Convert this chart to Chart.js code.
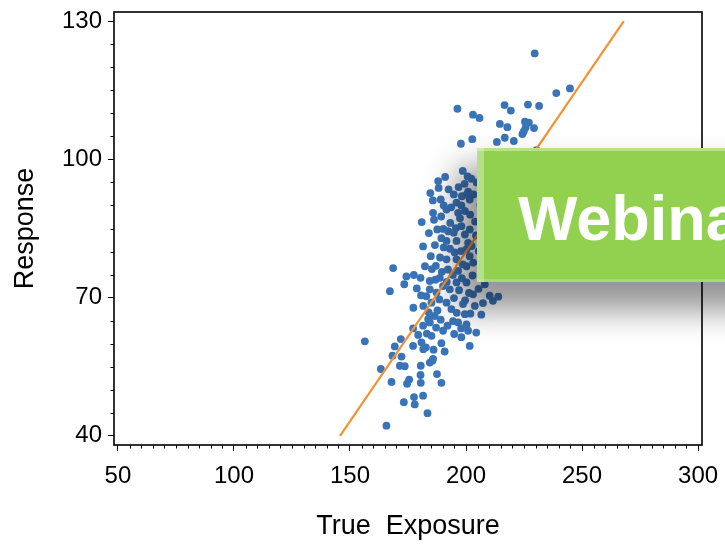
<!DOCTYPE html>
<html>
<head>
<meta charset="utf-8">
<script src="https://cdn.jsdelivr.net/npm/chart.js@4.4.0/dist/chart.umd.min.js"></script>
<style>
 html, body { margin: 0; padding: 0; background: #fff; overflow: hidden; }
 #wrap { position: relative; width: 725px; height: 544px; overflow: hidden; }
 #banner {
  position: absolute; left: 477px; top: 148px; width: 330px; height: 134px;
  background: #92d050;
  box-shadow: -16px 24px 30px 4px rgba(0, 0, 0, 0.42),
   inset 7px 0 0 rgba(255, 255, 255, 0.32),
   inset 0 3px 0 rgba(255, 255, 255, 0.35),
   inset 0 -3px 0 rgba(255, 255, 255, 0.2);
 }
 #banner span {
  position: absolute; left: 41px; top: 39px;
  font: bold 63px/63px "Liberation Sans", Arial, sans-serif; color: #fff;
  white-space: nowrap;
 }
</style>
</head>
<body>
<div id="wrap">
 <canvas id="chart" width="725" height="544"></canvas>
 <div id="banner"><span>Webinar</span></div>
</div>
<script>
// scatter points (visible ones)
var exposure = [
 229.6, 238.9, 244.8, 196.3, 203.0, 205.8, 216.6, 219.3, 226.7, 231.5, 214.6, 217.8,
 225.4, 227.1, 225.7, 229.3, 224.9, 224.3, 197.8, 202.7, 213.3, 216.7, 220.6,
 200.7, 202.3, 199.4, 188.2, 184.6, 194.7, 198.2, 200.2, 189.1, 190.4, 191.6, 195.9,
 198.0, 201.6, 199.5, 196.6, 185.8, 180.9, 198.0, 187.6, 190.2, 192.3, 194.7, 199.5,
 201.6, 191.6, 195.9, 200.9, 181.5, 190.4, 200.2, 195.1, 187.0, 191.6, 195.9, 201.6,
 192.2, 196.6, 200.2, 168.6, 174.3, 177.5, 180.4, 173.4, 167.2, 184.4, 188.7, 190.1,
 184.4, 187.3, 193.0, 195.9, 200.2, 208.1, 210.2, 211.6, 213.9, 203.0, 181.6, 185.1,
 191.6, 193.7, 198.7, 203.8, 206.6, 177.3, 183.7, 181.5, 184.4, 186.5, 194.4, 196.6,
 199.5, 200.2, 190.1, 185.1, 156.4, 171.9, 204.4, 200.9, 198.0, 177.2, 180.8, 189.4,
 201.6, 177.2, 169.3, 168.3, 172.2, 181.6, 182.7, 163.3, 171.5, 173.6, 180.5, 184.4,
 185.5, 167.9, 175.5, 174.6, 180.4, 180.5, 187.5, 177.6, 181.5, 177.9, 173.2, 183.4,
 165.7, 189.4, 185.8
];
var response = [
 123.0, 114.4, 115.4, 111.0, 109.7, 109.0, 111.8, 110.6, 111.9, 111.6, 107.7, 107.0,
 108.2, 108.0, 106.9, 106.8, 106.1, 105.5, 103.4, 104.4, 103.8, 104.7, 104.0,
 96.3, 95.8, 94.7, 93.8, 92.7, 92.4, 92.0, 92.3, 91.3, 90.0, 89.1, 90.6,
 90.0, 91.3, 88.8, 88.4, 88.4, 86.4, 85.5, 84.8, 84.9, 84.4, 84.1, 83.7,
 84.8, 82.3, 82.3, 81.9, 81.1, 80.9, 80.5, 79.8, 76.9, 78.3, 78.3, 79.0,
 76.1, 75.8, 76.8, 76.4, 74.6, 74.9, 74.3, 72.9, 71.4, 73.6, 74.3, 72.5,
 71.8, 71.1, 71.8, 73.3, 73.3, 72.9, 70.4, 69.3, 70.2, 70.7, 68.2, 68.9,
 68.9, 67.5, 68.6, 68.2, 66.3, 67.8, 65.3, 63.9, 64.6, 66.0, 64.9, 64.6,
 66.4, 64.2, 62.8, 61.7, 60.5, 61.0, 62.4, 62.8, 61.4, 59.5, 60.3, 60.1,
 59.5, 63.3, 59.4, 57.4, 57.2, 58.8, 59.2, 54.5, 55.2, 55.1, 55.2, 55.9,
 56.3, 51.7, 52.2, 51.3, 53.2, 51.5, 53.4, 48.4, 48.7, 46.8, 47.3, 44.9,
 42.2, 51.5, 56.7
];
// dense core of the cloud, estimated
var coreExposure = [
 192.5, 196.8, 200.9, 203.2, 188.0, 193.6, 197.4, 201.8, 203.9, 189.3, 186.2, 193.2,
 195.6, 189.4, 186.6, 193.1, 197.8, 202.4, 204.3, 184.8, 188.8, 198.6, 203.1, 185.3,
 189.6, 194.3, 198.2, 202.8, 186.8, 191.7, 197.0, 201.3, 205.4, 182.9, 188.5, 194.8,
 199.6, 187.7, 196.0, 201.9, 189.1, 192.0, 187.1, 183.1, 194.9, 197.9, 179.4, 186.0,
 190.8, 183.9, 180.6, 178.8, 182.3, 184.0, 185.7, 191.0, 198.6, 204.6, 206.2, 205.5,
 206.8, 207.3
];
var coreResponse = [
 93.5, 94.0, 93.0, 92.4, 95.3, 89.6, 87.2, 88.0, 86.5, 87.6, 86.9, 86.2,
 85.1, 82.9, 81.4, 80.6, 80.1, 81.2, 83.5, 79.0, 78.7, 77.2, 77.6, 76.2,
 75.6, 74.9, 74.2, 74.8, 73.9, 73.4, 71.6, 71.0, 71.9, 70.3, 69.6, 69.9,
 69.4, 67.2, 66.7, 66.5, 65.2, 63.9, 63.5, 62.2, 62.1, 63.3, 61.9, 58.7,
 58.3, 66.8, 70.5, 72.0, 76.8, 84.0, 91.1, 96.2, 97.5, 95.0, 90.1, 80.1,
 75.7, 68.8
];
// points under the banner, guessed
var hiddenExposure = [210.5, 214.2, 218.9, 222.5, 209.1, 213.7, 217.3, 226.0, 230.4, 211.8, 215.6, 220.1, 208.7, 212.9, 209.6, 224.3];
var hiddenResponse = [98.4, 101.2, 99.0, 96.3, 93.5, 90.8, 94.6, 100.5, 102.0, 86.2, 84.7, 88.9, 83.1, 79.4, 76.8, 92.1];

// fitted line end points
var fitX = [145.7, 268.0];
var fitY = [40, 130];

var xTicks = [50, 100, 150, 200, 250, 300];
var yTicks = [40, 70, 100, 130];
var minorStep = 5;

function toPoints(xs, ys) {
 return xs.map(function (x, i) {
  return { x: x, y: ys[i] };
 });
}

var points = toPoints(exposure, response)
 .concat(toPoints(coreExposure, coreResponse))
 .concat(toPoints(hiddenExposure, hiddenResponse));

var tickFont = { family: "'Liberation Sans', Arial, sans-serif", size: 24 };
var titleFont = { family: "'Liberation Sans', Arial, sans-serif", size: 27 };

// box round the plot and the short minor ticks
var frameTicks = {
 id: "frameTicks",
 afterDraw: function (chart) {
  var ctx = chart.ctx;
  var a = chart.chartArea;
  var sx = chart.scales.x;
  var sy = chart.scales.y;
  ctx.save();
  ctx.strokeStyle = "#000";
  ctx.lineWidth = 1;
  ctx.beginPath();
  for (var v = xTicks[0]; v <= xTicks[xTicks.length - 1]; v += minorStep) {
   if (xTicks.indexOf(v) >= 0) continue;
   var px = Math.round(sx.getPixelForValue(v)) + 0.5;
   ctx.moveTo(px, a.bottom);
   ctx.lineTo(px, a.bottom + 3.5);
  }
  for (var w = yTicks[0]; w <= yTicks[yTicks.length - 1]; w += minorStep) {
   if (yTicks.indexOf(w) >= 0) continue;
   var py = Math.round(sy.getPixelForValue(w)) + 0.5;
   ctx.moveTo(a.left, py);
   ctx.lineTo(a.left - 3.5, py);
  }
  ctx.stroke();
  ctx.lineWidth = 1.6;
  ctx.strokeRect(a.left, a.top, a.right - a.left, a.bottom - a.top);
  ctx.restore();
 },
};

new Chart(document.getElementById("chart"), {
 type: "scatter",
 data: {
  datasets: [
   {
    type: "line",
    label: "Fit",
    data: toPoints(fitX, fitY),
    borderColor: "#f39232",
    borderWidth: 2.2,
    pointRadius: 0,
    fill: false,
   },
   {
    label: "Response",
    data: points,
    backgroundColor: "#3a74b8",
    borderWidth: 0,
    pointRadius: 3.9,
   },
  ],
 },
 options: {
  responsive: false,
  animation: false,
  devicePixelRatio: 1,
  layout: { padding: { top: 12, right: 23, left: 0, bottom: 0 } },
  plugins: { legend: { display: false }, tooltip: { enabled: false } },
  scales: {
   x: {
    type: "linear",
    min: 48.3,
    max: 301.7,
    afterBuildTicks: function (scale) {
     scale.ticks = xTicks.map(function (v) { return { value: v }; });
    },
    afterFit: function (scale) {
     scale.height = 99;
     scale.paddingLeft = 0;
     scale.paddingRight = 0;
    },
    grid: { drawOnChartArea: false, tickLength: 6, tickColor: "#000", tickWidth: 1 },
    border: { display: false },
    ticks: { color: "#000", font: tickFont, padding: 11, maxRotation: 0 },
    title: { display: true, text: "True  Exposure", color: "#000", font: titleFont, padding: { top: 0, bottom: 1 } },
   },
   y: {
    type: "linear",
    min: 38,
    max: 132,
    afterBuildTicks: function (scale) {
     scale.ticks = yTicks.map(function (v) { return { value: v }; });
    },
    afterFit: function (scale) {
     scale.width = 114;
     scale.paddingTop = 0;
     scale.paddingBottom = 0;
    },
    grid: { drawOnChartArea: false, tickLength: 6, tickColor: "#000", tickWidth: 1 },
    border: { display: false },
    ticks: { color: "#000", font: tickFont, padding: 6 },
    title: { display: true, text: "Response", color: "#000", font: titleFont, padding: { top: 9, bottom: 0 } },
   },
  },
 },
 plugins: [frameTicks],
});
</script>
</body>
</html>
